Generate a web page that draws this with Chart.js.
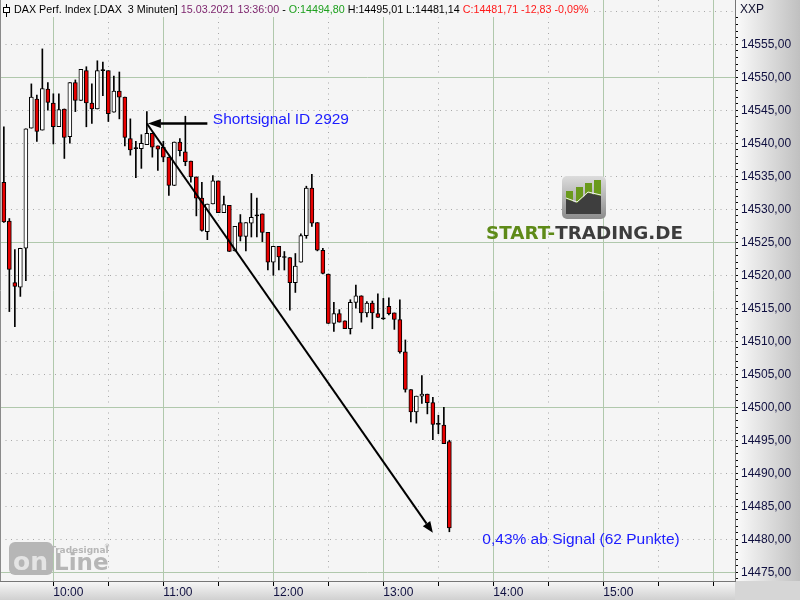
<!DOCTYPE html>
<html>
<head>
<meta charset="utf-8">
<title>DAX Perf. Index 3 Minuten</title>
<script src="https://cdn.jsdelivr.net/npm/chart.js@4.4.1/dist/chart.umd.min.js"></script>
<style>
  html, body { margin: 0; padding: 0; background: #f5f5f5; }
  canvas { display: block; }
</style>
</head>
<body>
<canvas id="chart" width="800" height="600"></canvas>
<script>
// DAX 3-minute candles, 15.03.2021
const times = [
  "09:33","09:36","09:39","09:42","09:45","09:48","09:51","09:54","09:57",
  "10:00","10:03","10:06","10:09","10:12","10:15","10:18","10:21","10:24","10:27",
  "10:30","10:33","10:36","10:39","10:42","10:45","10:48","10:51","10:54","10:57",
  "11:00","11:03","11:06","11:09","11:12","11:15","11:18","11:21","11:24","11:27",
  "11:30","11:33","11:36","11:39","11:42","11:45","11:48","11:51","11:54","11:57",
  "12:00","12:03","12:06","12:09","12:12","12:15","12:18","12:21","12:24","12:27",
  "12:30","12:33","12:36","12:39","12:42","12:45","12:48","12:51","12:54","12:57",
  "13:00","13:03","13:06","13:09","13:12","13:15","13:18","13:21","13:24","13:27",
  "13:30","13:33","13:36"
];
const opens = [
  14534.1,14528.2,14518.9,14518.2,14524.1,14542.3,14546.7,14542.0,14548.2,
  14546.1,14542.5,14545.2,14541.0,14549.2,14546.5,14551.0,14546.1,14545.2,14551.0,
  14551.0,14544.7,14547.9,14547.0,14540.7,14539.2,14539.2,14539.8,14541.5,14539.6,
  14539.4,14537.9,14533.6,14540.2,14538.7,14537.3,14534.9,14531.7,14526.6,14530.8,
  14534.3,14529.5,14530.6,14523.7,14528.0,14525.9,14527.9,14529.0,14529.3,14526.5,
  14522.0,14524.4,14522.7,14522.7,14518.9,14522.0,14526.0,14533.2,14528.0,14523.8,
  14520.2,14512.7,14514.2,14513.1,14511.9,14515.9,14516.9,14514.3,14515.8,14514.2,
  14513.4,14515.3,14514.3,14513.3,14508.4,14502.7,14499.3,14501.7,14502.0,14500.7,
  14497.4,14497.3,14494.80
];
const highs = [
  14542.5,14528.6,14523.9,14524.1,14542.2,14549.0,14547.3,14554.3,14549.2,
  14547.5,14547.5,14545.2,14549.2,14549.6,14551.2,14551.6,14549.0,14552.5,14552.3,
  14551.0,14550.2,14550.8,14547.0,14543.7,14540.3,14541.3,14544.8,14541.5,14539.6,
  14540.3,14537.9,14540.2,14540.7,14544.1,14537.3,14534.9,14534.1,14530.8,14535.1,
  14534.3,14532.0,14530.6,14527.4,14529.2,14528.0,14532.4,14531.7,14529.3,14526.5,
  14524.4,14524.4,14523.6,14522.7,14523.3,14526.3,14533.5,14535.3,14528.0,14524.1,
  14520.2,14515.9,14514.8,14513.1,14516.3,14518.5,14516.9,14516.0,14516.1,14517.2,
  14516.5,14516.6,14514.3,14516.3,14510.2,14502.7,14501.7,14504.8,14502.0,14501.5,
  14498.8,14500.0,14495.01
];
const lows = [
  14528.0,14514.5,14512.2,14516.8,14519.2,14542.3,14540.3,14542.0,14545.0,
  14539.9,14542.5,14537.7,14540.0,14544.8,14546.5,14542.5,14543.0,14545.2,14547.2,
  14543.3,14544.7,14543.7,14539.6,14538.2,14534.8,14536.2,14539.8,14537.9,14535.9,
  14537.2,14532.1,14533.6,14538.1,14536.6,14534.1,14529.0,14526.7,14525.4,14530.8,
  14529.5,14529.5,14523.6,14523.7,14525.2,14523.7,14525.8,14525.8,14525.1,14520.8,
  14520.0,14520.8,14520.8,14514.7,14517.4,14522.0,14525.6,14527.4,14523.7,14520.2,
  14512.7,14511.5,14512.9,14511.9,14511.1,14515.0,14512.9,14513.7,14511.9,14513.6,
  14513.3,14514.0,14511.8,14508.2,14502.3,14497.8,14497.6,14500.6,14499.0,14495.1,
  14496.0,14494.5,14481.14
];
const closes = [
  14528.1,14520.9,14518.3,14524.1,14542.2,14547.0,14541.8,14548.3,14546.2,
  14542.5,14545.1,14540.9,14549.2,14546.5,14551.2,14546.1,14545.2,14551.0,14551.0,
  14544.5,14547.9,14547.0,14540.9,14539.0,14539.2,14540.0,14541.5,14539.4,14539.1,
  14537.9,14533.6,14540.2,14538.9,14537.2,14534.9,14531.7,14526.8,14530.8,14534.3,
  14529.5,14530.7,14523.6,14527.4,14525.9,14528.0,14528.8,14529.0,14526.5,14522.0,
  14524.4,14522.8,14522.7,14518.9,14521.4,14526.0,14533.2,14527.9,14523.8,14520.3,
  14512.7,14514.2,14512.9,14511.9,14515.9,14516.9,14514.3,14515.8,14514.3,14513.6,
  14513.4,14514.2,14513.3,14508.4,14502.7,14499.3,14501.7,14502.0,14500.7,14497.4,
  14497.4,14494.5,14481.71
];

// axis ticks
const priceTicks = [14475,14480,14485,14490,14495,14500,14505,14510,14515,14520,
                    14525,14530,14535,14540,14545,14550,14555,14560];
const timeTicks = ["10:00","10:30","11:00","11:30","12:00","12:30","13:00","13:30",
                   "14:00","14:30","15:00","15:30","16:00"];
const timeLabels = ["10:00","11:00","12:00","13:00","14:00","15:00"];

// signal annotation (time, price)
const signalAt = ["10:51", 14543.0];
const signalTail = ["11:24", 14543.0];
const targetAt = ["13:27", 14481.0];
const signalText = "Shortsignal ID 2929";
const signalTextAt = ["11:27", 14543.5];
const resultText = "0,43% ab Signal (62 Punkte)";
const resultTextAt = ["13:54", 14480.0];

const header = [
  ["DAX Perf. Index [.DAX  3 Minuten] ", "#000000"],
  ["15.03.2021 13:36:00", "#7a1f6a"],
  [" - ", "#000000"],
  ["O:14494,80", "#1ea01e"],
  [" H:14495,01 L:14481,14 ", "#000000"],
  ["C:14481,71 -12,83 -0,09%", "#ff1a1a"]
];

const toMin = s => Number(s.slice(0, 2)) * 60 + Number(s.slice(3));
const fmtPrice = v => v.toFixed(2).replace('.', ',');

const xMin = 570.9, xMax = 971.8;
const yMin = 14473.68, yMax = 14561.71;

// minor price marks every point on the axis
const priceMarks = [];
for (let v = 14474; v <= 14560; v++) priceMarks.push(v);

const FONT = "'Liberation Sans', Arial, sans-serif";
Chart.defaults.font.family = FONT;

function arrow(ctx, x1, y1, x2, y2, w, len, half) {
  const ang = Math.atan2(y2 - y1, x2 - x1);
  const bx = x2 - Math.cos(ang) * len, by = y2 - Math.sin(ang) * len;
  ctx.lineWidth = w;
  ctx.beginPath();
  ctx.moveTo(x1, y1);
  ctx.lineTo(bx, by);
  ctx.stroke();
  ctx.beginPath();
  ctx.moveTo(x2, y2);
  ctx.lineTo(bx - Math.sin(ang) * half, by + Math.cos(ang) * half);
  ctx.lineTo(bx + Math.sin(ang) * half, by - Math.cos(ang) * half);
  ctx.closePath();
  ctx.fill();
}

function roundRect(ctx, x, y, w, h, r) {
  ctx.beginPath();
  ctx.moveTo(x + r, y);
  ctx.arcTo(x + w, y, x + w, y + h, r);
  ctx.arcTo(x + w, y + h, x, y + h, r);
  ctx.arcTo(x, y + h, x, y, r);
  ctx.arcTo(x, y, x + w, y, r);
  ctx.closePath();
}

const decor = {
  id: 'decor',
  beforeDraw(chart) {
    const ctx = chart.ctx, a = chart.chartArea, W = chart.width, H = chart.height;
    ctx.save();
    ctx.fillStyle = '#f5f5f5';
    ctx.fillRect(0, 0, W, H);
    let g = ctx.createLinearGradient(a.right, 0, W, 0);
    g.addColorStop(0, '#fbfbfb');
    g.addColorStop(1, '#c0c0c0');
    ctx.fillStyle = g;
    ctx.fillRect(a.right, 0, W - a.right, a.bottom);
    g = ctx.createLinearGradient(0, a.bottom, 0, H);
    g.addColorStop(0, '#f8f8f8');
    g.addColorStop(1, '#d0d0d0');
    ctx.fillStyle = g;
    ctx.fillRect(0, a.bottom, a.right, H - a.bottom);
    ctx.fillStyle = '#d6d6d6';
    ctx.fillRect(a.right, a.bottom, W - a.right, H - a.bottom);
    ctx.restore();
  },
  beforeDatasetsDraw(chart) {
    const ctx = chart.ctx;
    ctx.save();
    // start-trading.de watermark
    const g = ctx.createLinearGradient(0, 176, 0, 219);
    g.addColorStop(0, '#dcdcdc');
    g.addColorStop(1, '#8c8c8c');
    ctx.fillStyle = g;
    roundRect(ctx, 562, 176, 44, 43, 5);
    ctx.fill();
    ctx.fillStyle = '#6a9a1c';
    [[566, 191], [576, 187], [585, 183], [594, 180]].forEach(b => ctx.fillRect(b[0], b[1], 7, 206 - b[1]));
    ctx.fillStyle = '#3e3e3e';
    ctx.beginPath();
    ctx.moveTo(566, 199); ctx.lineTo(577, 203); ctx.lineTo(588, 193); ctx.lineTo(601, 196);
    ctx.lineTo(601, 214); ctx.lineTo(566, 214);
    ctx.closePath();
    ctx.fill();
    ctx.strokeStyle = '#f0f0f0';
    ctx.lineWidth = 1;
    ctx.beginPath();
    ctx.moveTo(566, 198); ctx.lineTo(577, 202); ctx.lineTo(588, 192); ctx.lineTo(601, 195);
    ctx.stroke();

    ctx.font = "bold 18px 'DejaVu Sans'";
    ctx.textBaseline = 'alphabetic';
    const p1 = 'START-', p2 = 'TRADING.DE';
    const w1 = ctx.measureText(p1).width, w2 = ctx.measureText(p2).width;
    const sx = 197 / (w1 + w2);
    ctx.translate(486, 239);
    ctx.scale(sx, 1);
    ctx.fillStyle = '#5e8a18';
    ctx.fillText(p1, 0, 0);
    ctx.fillStyle = '#3c3c3c';
    ctx.fillText(p2, w1, 0);
    ctx.restore();

    // tradesignal online watermark
    ctx.save();
    ctx.fillStyle = '#b6b6b6';
    roundRect(ctx, 9, 542, 44, 33, 6);
    ctx.fill();
    ctx.font = "bold 25px 'DejaVu Sans'";
    ctx.fillStyle = '#e4e4e4';
    ctx.textBaseline = 'alphabetic';
    ctx.fillText('on', 13, 570);
    ctx.fillStyle = '#b6b6b6';
    ctx.font = "bold 23px 'DejaVu Sans'";
    ctx.fillText('Line', 54, 570);
    ctx.font = "bold 9px 'DejaVu Sans'";
    ctx.fillText('Tradesignal', 50, 553);
    ctx.font = "6px 'DejaVu Sans'";
    ctx.fillText('\u00ae', 104, 548);
    ctx.restore();
  },
  afterDatasetsDraw(chart) {
    const ctx = chart.ctx, x = chart.scales.x, y = chart.scales.y, a = chart.chartArea;
    const px = p => [x.getPixelForValue(toMin(p[0])), y.getPixelForValue(p[1])];
    ctx.save();
    ctx.strokeStyle = '#000';
    ctx.fillStyle = '#000';
    ctx.lineCap = 'butt';
    const s = px(signalAt), t = px(signalTail), e = px(targetAt);
    arrow(ctx, t[0], t[1], s[0] + 1, s[1], 2.5, 13, 4.5);
    arrow(ctx, s[0], s[1], e[0], e[1], 2, 11, 4.5);

    ctx.font = '15.5px ' + FONT;
    ctx.fillStyle = '#1c1cff';
    ctx.textBaseline = 'middle';
    let p = px(signalTextAt);
    ctx.fillText(signalText, p[0], p[1]);
    p = px(resultTextAt);
    ctx.fillText(resultText, p[0], p[1]);

    // left frame line
    ctx.strokeStyle = '#8a8a8a';
    ctx.lineWidth = 1;
    ctx.beginPath();
    ctx.moveTo(a.left + 0.5, a.top);
    ctx.lineTo(a.left + 0.5, a.bottom);
    ctx.stroke();
    ctx.restore();
  },
  afterDraw(chart) {
    const ctx = chart.ctx;
    ctx.save();
    ctx.font = '12px ' + FONT;
    const full = header.map(h => h[0]).join('');
    const size = 12 * 575 / ctx.measureText(full).width;
    ctx.font = size.toFixed(2) + 'px ' + FONT;
    const total = ctx.measureText(full).width;
    ctx.fillStyle = '#f5f5f5';
    ctx.fillRect(1, 0, 14 + total + 3, 17);
    // small chart symbol
    ctx.strokeStyle = '#000';
    ctx.lineWidth = 1;
    ctx.beginPath();
    ctx.moveTo(6.5, 4); ctx.lineTo(6.5, 17);
    ctx.stroke();
    ctx.fillStyle = '#fff';
    ctx.fillRect(3.5, 7.5, 6, 5);
    ctx.strokeRect(3.5, 7.5, 6, 5);
    ctx.textBaseline = 'middle';
    let cx = 14;
    header.forEach(h => {
      ctx.fillStyle = h[1];
      ctx.fillText(h[0], cx, 10);
      cx += ctx.measureText(h[0]).width;
    });
    ctx.font = '12px ' + FONT;
    ctx.fillStyle = '#101030';
    ctx.fillText('XXP', 740, 10);
    ctx.restore();
  }
};

const candleColor = i => closes[i] < opens[i] ? '#e80000' : (closes[i] === opens[i] ? '#000000' : '#ffffff');

new Chart(document.getElementById('chart'), {
  type: 'bar',
  data: {
    datasets: [
      {
        label: 'Body',
        data: times.map((t, i) => ({ x: toMin(t), y: [opens[i], closes[i]] })),
        backgroundColor: c => candleColor(c.dataIndex),
        borderColor: '#000000',
        borderWidth: 1,
        borderSkipped: false,
        barThickness: 4,
        minBarLength: 1,
        grouped: false,
        order: 0
      },
      {
        label: 'Wick',
        data: times.map((t, i) => ({ x: toMin(t), y: [lows[i], highs[i]] })),
        backgroundColor: '#000000',
        borderWidth: 0,
        barThickness: 1,
        grouped: false,
        order: 1
      }
    ]
  },
  options: {
    responsive: false,
    animation: false,
    events: [],
    layout: { padding: 0, autoPadding: false },
    plugins: { legend: { display: false }, tooltip: { enabled: false } },
    scales: {
      x: {
        type: 'linear',
        min: xMin,
        max: xMax,
        offset: false,
        afterBuildTicks: s => { s.ticks = timeTicks.map(t => ({ value: toMin(t) })); },
        afterFit: s => { s.height = 19; s.paddingLeft = 0; s.paddingRight = 0; },
        ticks: {
          autoSkip: false,
          maxRotation: 0,
          align: 'start',
          padding: -1,
          color: '#101040',
          font: { size: 12 },
          callback: v => {
            const lbl = String(Math.floor(v / 60)).padStart(2, '0') + ':' + String(v % 60).padStart(2, '0');
            return timeLabels.includes(lbl) ? lbl : '';
          }
        },
        grid: {
          offset: false,
          color: c => (c.tick && c.tick.value % 60 === 0) ? '#b0c8ac' : '#a8a8a8',
          tickColor: '#000000',
          tickLength: 5
        },
        border: {
          color: '#767676',
          dash: c => (c.tick && c.tick.value % 60 !== 0) ? [1, 4.5] : []
        }
      },
      y: {
        position: 'right',
        min: yMin,
        max: yMax,
        afterBuildTicks: s => { s.ticks = priceMarks.map(v => ({ value: v })); },
        afterFit: s => { s.width = 65; s.paddingTop = 0; s.paddingBottom = 0; },
        ticks: {
          autoSkip: false,
          padding: 3,
          color: '#101040',
          font: { size: 12 },
          callback: v => (priceTicks.includes(v) && v !== 14560) ? fmtPrice(v) : ''
        },
        grid: {
          color: c => {
            const v = c.tick ? c.tick.value : 1;
            if (v % 25 === 0) return '#b0c8ac';
            if (priceTicks.includes(v)) return '#a8a8a8';
            return 'rgba(0,0,0,0)';
          },
          tickColor: c => (c.tick && c.tick.value === 14560) ? 'rgba(0,0,0,0)' : '#000000',
          tickLength: 3
        },
        border: {
          color: '#767676',
          dash: c => (c.tick && c.tick.value % 25 !== 0) ? [1, 4.5] : []
        }
      }
    }
  },
  plugins: [decor]
});
</script>
</body>
</html>
